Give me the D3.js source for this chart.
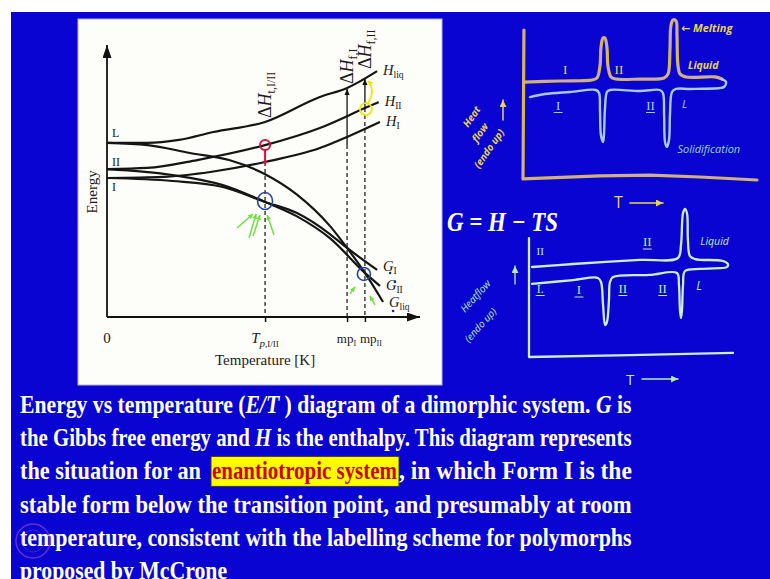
<!DOCTYPE html>
<html>
<head>
<meta charset="utf-8">
<script src="https://d3js.org/d3.v7.min.js"></script>
<style>
  body { margin: 0; background: #fff; }
  svg { display: block; }
</style>
</head>
<body>
<svg id="slide" width="770" height="579"></svg>
<script>
// ---- E/T diagram: [temperature, energy] (both 0..100) ----
const hLiq = [[0,64],[12.8,64],[23,65.1],[34,68],[50.5,71.7],[68,80.9],[76.7,84.2],[86.3,90.4]];
const hII  = [[0,54.4],[12.8,54.8],[28.8,57.7],[50.5,63.2],[68,69.5],[82.4,76.8],[86.8,79]];
const hI   = [[0,51.1],[18,51.5],[34,53.5],[50.5,57],[68,62.1],[76.7,66.2],[87.2,71.7]];
const gLiq = [[0,64],[13,63.2],[26.5,60.3],[39,57.7],[50.5,52.5],[60.7,45],[71.2,33.5],[76.7,25.4],[82.4,16.2],[88.2,5.5]];
const gII  = [[0,54.4],[21,52.2],[37,48.5],[50.5,42.3],[60.7,37],[71.2,29],[82.4,16.2],[87.2,11.4]];
const gI   = [[0,51.1],[21,50],[37,47.8],[50.5,42.3],[60.7,38.2],[71.2,30.5],[76.7,25.4],[86.3,17.3]];

const tP = 50.5, mpI = 76.7, mpII = 82.4;
const curveNames = ['H_liq','H_II','H_I','G_I','G_II','G_liq'];

// ---- hand sketches on the right, points in a 0..100 box ----
const dscAxisTop  = [[0.4,100],[0,0.7],[32.9,2.7],[54.3,3.3],[75.6,2],[100,0]];
const dscHeatTop  = [[0.4,65.3],[15.8,66],[29.5,66.7],[31.6,68],[32.9,76],[33.3,88],[34.2,94.7],[35,94.7],[35.9,88],[36.3,76],[37.6,68.7],[39.7,67.3],[50,67.3],[60.3,68],[62,70.7],[62.8,86.7],[63.2,102.7],[64.1,106.7],[65.4,106],[65.8,96.7],[66.2,76.7],[67.1,70.7],[69.7,68.7],[82.1,68.7],[85,67.3]];
const dscCoolTop  = [[85,67.3],[86.8,65.3],[85.9,62],[84.2,61.3],[71.4,60.7],[65.4,60.7],[63.7,58.7],[62.8,43.3],[62.4,26.7],[61.5,22],[60.7,25.3],[60.3,43.3],[59.8,58],[58.5,60],[50,59.3],[37.2,60],[35.9,58.7],[35,46.7],[34.6,30],[34.2,25.3],[33.3,30],[32.9,46.7],[32.5,58],[31.2,60],[20.1,58.7],[9.4,57.3],[3,55.3]];
const dscAxisBot  = [[0,79.3],[0,0],[49.5,1.3],[100,2.7]];
const dscUpperBot = [[1.5,60],[21.6,62],[54.4,64.7],[73,66],[74.5,74.7],[75.5,96],[76.5,98.7],[77.5,95.3],[77.9,78],[78.9,67.3],[81.4,65.3],[95.1,64],[97.5,62],[97.1,60],[93.6,59.3]];
const dscLowerBot = [[93.6,59.3],[83.8,58.7],[76.5,57.3],[75.5,48],[75,31.3],[74.5,26],[74,31.3],[73.5,48],[72.5,56],[59.3,54.7],[41.2,53.3],[39.7,50],[39.2,38],[38.2,23.3],[37.3,21.3],[36.3,34.7],[35.3,50],[33.8,52.7],[21.6,51.3],[1.5,48.7]];

// ---- caption ----
const captionLines = [
  [['Energy vs temperature (',0],['E/T',1],[' ) diagram of a dimorphic system. ',0],['G',1],[' is',0]],
  [['the Gibbs free energy and ',0],['H',1],[' is the enthalpy. This diagram represents',0]],
  null,
  [['stable form below the transition point, and presumably at room',0]],
  [['temperature, consistent with the labelling scheme for polymorphs',0]],
  [['proposed by McCrone',0]]
];
const line3Parts = ['the situation for an', 'enantiotropic system', ', in which Form I is the'];

const svg = d3.select('#slide');
const serif = '"Liberation Serif", "Times New Roman", serif';
const hand = '"Open Sans", "DejaVu Sans", sans-serif';

svg.append('rect').attr('width', 770).attr('height', 579).attr('fill', '#ffffff');
svg.append('rect').attr('x', 11).attr('y', 12).attr('width', 759).attr('height', 567).attr('fill', '#0a04d2');
svg.append('rect').attr('x', 78).attr('y', 19).attr('width', 364).attr('height', 366)
  .attr('fill', '#fdfdf9').attr('stroke', '#b6aef0').attr('stroke-width', 1);

const defs = svg.append('defs');
function marker(id, len, half, color) {
  defs.append('marker').attr('id', id).attr('markerUnits', 'userSpaceOnUse')
    .attr('viewBox', `0 ${-half} ${len} ${2*half}`).attr('refX', len).attr('refY', 0)
    .attr('markerWidth', len).attr('markerHeight', 2*half).attr('orient', 'auto')
    .append('path').attr('d', `M0,${-half}L${len},0L0,${half}Z`).attr('fill', color);
}
marker('axisHead', 13, 4.5, '#111');
marker('smallHead', 6, 2.6, '#111');
marker('greenHead', 5, 2.5, '#6fe040');
marker('yellowHead', 5, 3, '#f2e600');
marker('handHead', 7, 3.5, '#e8d44c');
marker('paleHead', 7, 3.5, '#b8eca8');

// ================= E/T diagram =================
const x = d3.scaleLinear().domain([0, 100]).range([107, 420]);
const y = d3.scaleLinear().domain([0, 100]).range([317, 45]);
const line = d3.line().x(d => x(d[0])).y(d => y(d[1])).curve(d3.curveMonotoneX);
const at = (pts, t) => d3.scaleLinear().domain(pts.map(p => p[0])).range(pts.map(p => p[1]))(t);

const chart = svg.append('g').attr('id', 'chart');

// ticks under the axis
chart.append('g').attr('transform', `translate(0,${y(0)})`)
  .call(d3.axisBottom(x).tickValues([tP, mpI, mpII]).tickFormat('').tickSizeInner(5).tickSizeOuter(0))
  .call(g => g.select('.domain').remove())
  .selectAll('line').attr('stroke', '#111').attr('stroke-width', 1.5);

// dashed drop lines
const dashes = [[tP, at(hI, tP)], [mpI, at(hI, mpI) - 3], [mpII, at(hII, mpII)]];
chart.selectAll('line.drop').data(dashes).join('line').classed('drop', true)
  .attr('x1', d => x(d[0])).attr('x2', d => x(d[0]))
  .attr('y1', d => y(d[1])).attr('y2', y(0))
  .attr('stroke', '#222').attr('stroke-width', 1.3).attr('stroke-dasharray', '4,3');

// enthalpy of fusion arrows
const fusion = [[mpI, at(hI, mpI) - 3, at(hLiq, mpI)], [mpII, at(hII, mpII), at(hLiq, mpII)]];
chart.selectAll('line.fus').data(fusion).join('line').classed('fus', true)
  .attr('x1', d => x(d[0])).attr('x2', d => x(d[0]))
  .attr('y1', d => y(d[1])).attr('y2', d => y(d[2]) + 1)
  .attr('stroke', '#222').attr('stroke-width', 1.4).attr('marker-end', 'url(#smallHead)');

// curves
chart.selectAll('path.curve').data([hLiq, hII, hI, gI, gII, gLiq]).join('path').classed('curve', true)
  .attr('d', line).attr('fill', 'none').attr('stroke', '#151515').attr('stroke-width', 2.2);

// axes with arrow heads
chart.append('line').attr('x1', x(0)).attr('x2', x(0)).attr('y1', y(0)).attr('y2', y(100))
  .attr('stroke', '#111').attr('stroke-width', 1.8).attr('marker-end', 'url(#axisHead)');
chart.append('line').attr('x1', x(0)).attr('x2', x(100)).attr('y1', y(0)).attr('y2', y(0))
  .attr('stroke', '#111').attr('stroke-width', 1.8).attr('marker-end', 'url(#axisHead)');

// curve labels at the right ends
function label(g, px, py, main, sub) {
  const t = g.append('text').attr('x', px).attr('y', py)
    .attr('font-family', serif).attr('font-size', 14.5).attr('fill', '#1a1a1a');
  t.append('tspan').text(main).attr('font-style', 'italic');
  t.append('tspan').text(sub).attr('font-size', 9.5).attr('dy', 3);
  return t;
}
const ends = [hLiq, hII, hI, gI, gII, gLiq].map(c => c[c.length - 1]);
const labelShift = [4, 4, 4, 1, 4, 5];
ends.forEach((e, i) => {
  const nm = curveNames[i].split('_');
  label(chart, x(e[0]) + 6, y(e[1]) + labelShift[i], nm[0], nm[1]);
});
// little blue pen marks next to the G labels
chart.selectAll('circle.pen').data([[gI, 13, 3], [gII, 15, -4], [gLiq, 10, 9]]).join('circle').classed('pen', true)
  .attr('cx', d => x(d[0][d[0].length - 1][0]) + d[1])
  .attr('cy', d => y(d[0][d[0].length - 1][1]) + d[2])
  .attr('r', 1.3).attr('fill', '#1a2a9a');

// rotated delta-H labels
function rotLabel(px, py, sub) {
  const g = chart.append('g').attr('transform', `translate(${px},${py}) rotate(-90)`);
  const t = g.append('text').attr('font-family', serif).attr('font-size', 18).attr('fill', '#1a1a1a');
  t.append('tspan').text('Δ').attr('font-style', 'normal');
  t.append('tspan').text('H').attr('font-style', 'italic');
  t.append('tspan').text(sub).attr('font-size', 12).attr('dy', 4);
}
rotLabel(x(tP) + 6, 118, 't,I/II');
rotLabel(x(mpI) + 6, 84, 'f,I');
rotLabel(x(mpII) + 6, 69, 'f,II');

// axis labels
const tl = chart.append('g').attr('font-family', serif).attr('font-size', 15).attr('fill', '#1a1a1a');
tl.append('text').attr('x', x(0)).attr('y', y(0) + 26).attr('text-anchor', 'middle').text('0');
const tpL = tl.append('text').attr('x', x(tP)).attr('y', y(0) + 26).attr('text-anchor', 'middle');
tpL.append('tspan').text('T').attr('font-style', 'italic');
tpL.append('tspan').text('p').attr('font-style', 'italic').attr('font-size', 11).attr('dy', 4);
tpL.append('tspan').text(',I/II').attr('font-size', 9);
[[mpI, 'I', 'end', 9], [mpII, 'II', 'start', -5]].forEach(m => {
  const t = tl.append('text').attr('x', x(m[0]) + m[3]).attr('y', y(0) + 26)
    .attr('text-anchor', m[2]).attr('font-size', 13);
  t.append('tspan').text('mp');
  t.append('tspan').text(m[1]).attr('font-size', 8).attr('dy', 3);
});
tl.append('text').attr('x', x(tP)).attr('y', y(0) + 48).attr('text-anchor', 'middle').text('Temperature [K]');
tl.append('text').attr('transform', `translate(${x(0) - 10},${y(46)}) rotate(-90)`)
  .attr('text-anchor', 'middle').text('Energy');

// handwritten level marks next to the energy axis
const marks = [['L', hLiq], ['II', hII], ['I', hI]];
chart.selectAll('text.lvl').data(marks).join('text').classed('lvl', true)
  .attr('x', x(0) + 5).attr('y', (d, i) => y(d[1][0][1]) - [6, 3, -13][i])
  .attr('font-family', serif).attr('font-size', 12).attr('fill', '#222').text(d => d[0]);

// coloured pen annotations
const crossTp = [tP, at(gI, tP)];
const crossMp = [mpII, at(gLiq, mpII)];
chart.append('circle').attr('cx', x(tP)).attr('cy', y(at(hII, tP)))
  .attr('r', 5).attr('fill', 'none').attr('stroke', '#d8103a').attr('stroke-width', 2);
chart.append('line').attr('x1', x(tP)).attr('x2', x(tP)).attr('y1', y(at(hII, tP)) + 5).attr('y2', y(at(hI, tP)))
  .attr('stroke', '#d8103a').attr('stroke-width', 2);
chart.append('circle').attr('cx', x(tP)).attr('cy', y(at(hI, tP)))
  .attr('r', 1.8).attr('fill', '#d8103a');
chart.append('ellipse').attr('cx', x(crossTp[0])).attr('cy', y(crossTp[1]) - 1).attr('rx', 7.5).attr('ry', 8.5)
  .attr('fill', 'none').attr('stroke', '#24469e').attr('stroke-width', 1.6);
chart.append('circle').attr('cx', x(crossMp[0]) - 1).attr('cy', y(crossMp[1]) + 1)
  .attr('r', 6.5).attr('fill', 'none').attr('stroke', '#24469e').attr('stroke-width', 1.6);
chart.append('circle').attr('cx', x(mpII) + 1).attr('cy', y(at(hII, mpII)) + 1)
  .attr('r', 6).attr('fill', 'none').attr('stroke', '#f2e600').attr('stroke-width', 1.8);
chart.append('path')
  .attr('d', `M${x(mpII) + 2},${y(at(hII, mpII)) - 4} C${x(mpII) + 9},${y(at(hII, mpII)) - 12} ${x(mpII) + 8},${y(at(hLiq, mpII)) + 8} ${x(mpII) + 3},${y(at(hLiq, mpII)) + 3}`)
  .attr('fill', 'none').attr('stroke', '#f2e600').attr('stroke-width', 1.8).attr('marker-end', 'url(#yellowHead)');

// green arrows pointing at the crossings (offsets in px from the crossing)
const greenArrows = [
  [crossTp, [-28, 26], [-12, 12]], [crossTp, [-16, 36], [-9, 12]], [crossTp, [-12, 34], [-5, 13]], [crossTp, [9, 33], [2, 13]],
  [crossMp, [-15, 21], [-10, 14]], [crossMp, [10, 32], [5, 23]]
];
chart.selectAll('line.green').data(greenArrows).join('line').classed('green', true)
  .attr('x1', d => x(d[0][0]) + d[1][0]).attr('y1', d => y(d[0][1]) + d[1][1])
  .attr('x2', d => x(d[0][0]) + d[2][0]).attr('y2', d => y(d[0][1]) + d[2][1])
  .attr('stroke', '#6fe040').attr('stroke-width', 1.5).attr('marker-end', 'url(#greenHead)');

// ================= hand sketches =================
const sketchLine = (sx, sy) => d3.line().x(d => sx(d[0])).y(d => sy(d[1])).curve(d3.curveCatmullRom.alpha(0.5));
const axisLine = (sx, sy) => d3.line().x(d => sx(d[0])).y(d => sy(d[1]));
const sxT = d3.scaleLinear().domain([0, 100]).range([523, 757]);
const syT = d3.scaleLinear().domain([0, 100]).range([180, 30]);
const sketchTop = svg.append('g').attr('id', 'sketchTop').attr('fill', 'none')
  .attr('stroke-linecap', 'round').attr('stroke-linejoin', 'round');
[[dscAxisTop, axisLine], [dscHeatTop, sketchLine]].forEach(([pts, gen]) => {
  sketchTop.append('path').attr('d', gen(sxT, syT)(pts)).attr('stroke', '#d6b54a').attr('stroke-width', 3.2);
  sketchTop.append('path').attr('d', gen(sxT, syT)(pts)).attr('stroke', '#c6a6de').attr('stroke-width', 1.1);
});
sketchTop.append('path').attr('d', sketchLine(sxT, syT)(dscCoolTop)).attr('stroke', '#a9c9f6').attr('stroke-width', 2.4);

const hy = '#e8d44c', lb = '#a8ccf4', pg = '#b8eca8';
function handText(g, px, py, str, color, size, rot) {
  return g.append('text').attr('transform', `translate(${px},${py})${rot ? ` rotate(${rot})` : ''}`)
    .attr('font-family', hand).attr('font-style', 'italic').attr('font-size', size)
    .attr('fill', color).attr('stroke', 'none').text(str);
}
function numeral(g, px, py, str, color, size, under) {
  g.append('text').attr('x', px).attr('y', py).attr('text-anchor', 'middle')
    .attr('font-family', serif).attr('font-size', size).attr('fill', color).attr('stroke', 'none').text(str);
  if (under) g.append('line').attr('x1', px - 4).attr('x2', px + 4).attr('y1', py + 3).attr('y2', py + 3)
    .attr('stroke', color).attr('stroke-width', 1.2);
}
handText(sketchTop, sxT(67.5), syT(99), '← Melting', hy, 11, 0).attr('font-weight', 'bold');
numeral(sketchTop, sxT(18), syT(71), 'I', hy, 13, false);
numeral(sketchTop, sxT(41), syT(71), 'II', hy, 13, false);
handText(sketchTop, sxT(70.5), syT(74), 'Liquid', hy, 10.5, 0).attr('font-weight', 'bold');
numeral(sketchTop, sxT(15), syT(47), 'I', lb, 13, true);
numeral(sketchTop, sxT(54.5), syT(47), 'II', lb, 13, true);
handText(sketchTop, sxT(68), syT(48), 'L', lb, 11, 0);
handText(sketchTop, sxT(66), syT(18), 'Solidification', '#98d6cc', 11, 0);
handText(sketchTop, 468, 128, 'Heat', hy, 10, -55).attr('font-weight', 'bold');
handText(sketchTop, 477, 143, 'flow', hy, 10, -55).attr('font-weight', 'bold');
handText(sketchTop, 479, 169, '(endo up)', hy, 10, -55).attr('font-weight', 'bold');
sketchTop.append('line').attr('x1', 503).attr('x2', 503).attr('y1', 120).attr('y2', 100)
  .attr('stroke', hy).attr('stroke-width', 1.5).attr('marker-end', 'url(#handHead)');
handText(sketchTop, 614, 208, 'T', hy, 16, 0).attr('font-style', 'normal');
sketchTop.append('line').attr('x1', 630).attr('x2', 663).attr('y1', 203).attr('y2', 203)
  .attr('stroke', hy).attr('stroke-width', 1.6).attr('marker-end', 'url(#handHead)');

// G = H - TS
svg.append('text').attr('x', 447).attr('y', 231).attr('font-family', serif).attr('font-weight', 'bold')
  .attr('font-style', 'italic').attr('font-size', 27).attr('fill', '#ffffff')
  .attr('textLength', 111).attr('lengthAdjust', 'spacingAndGlyphs').text('G = H − TS');

const sxB = d3.scaleLinear().domain([0, 100]).range([529, 733]);
const syB = d3.scaleLinear().domain([0, 100]).range([357, 207]);
const sketchBot = svg.append('g').attr('id', 'sketchBot').attr('fill', 'none')
  .attr('stroke-linecap', 'round').attr('stroke-linejoin', 'round');
[[dscAxisBot, axisLine], [dscUpperBot, sketchLine], [dscLowerBot, sketchLine]].forEach(([pts, gen]) => {
  sketchBot.append('path').attr('d', gen(sxB, syB)(pts)).attr('stroke', '#cdeed6').attr('stroke-width', 2.3);
});
numeral(sketchBot, sxB(5.5), syB(68), 'II', pg, 11, false);
numeral(sketchBot, sxB(58), syB(74), 'II', pg, 13, true);
handText(sketchBot, sxB(84), syB(75), 'Liquid', pg, 10.5, 0);
numeral(sketchBot, sxB(5.5), syB(43), 'I.', pg, 12, true);
numeral(sketchBot, sxB(24.5), syB(42), 'I', pg, 13, true);
numeral(sketchBot, sxB(46), syB(43), 'II', pg, 13, true);
numeral(sketchBot, sxB(65.5), syB(43), 'II', pg, 13, true);
handText(sketchBot, sxB(82), syB(45), 'L', pg, 12, 0);
handText(sketchBot, 465, 313, 'Heatflow', pg, 10, -48);
handText(sketchBot, 469, 343, '(endo up)', pg, 10, -48);
sketchBot.append('line').attr('x1', 515).attr('x2', 515).attr('y1', 284).attr('y2', 266)
  .attr('stroke', pg).attr('stroke-width', 1.3).attr('marker-end', 'url(#paleHead)');
handText(sketchBot, 626, 385, 'T', pg, 15, 0).attr('font-style', 'normal');
sketchBot.append('line').attr('x1', 642).attr('x2', 678).attr('y1', 379).attr('y2', 379)
  .attr('stroke', pg).attr('stroke-width', 1.5).attr('marker-end', 'url(#paleHead)');

// ================= caption =================
const cap = svg.append('g').attr('id', 'caption').attr('font-family', serif).attr('font-weight', 'bold')
  .attr('font-size', 25.5).attr('fill', '#ffffff');
const left = 20, right = 632, base0 = 413, lead = 33.2;
// squeeze a text horizontally so it spans [x0, x1]
function fit(g, x0, x1, yy, k) {
  const w = g.select('text').node().getComputedTextLength();
  const s = k || (x1 - x0) / w;
  g.attr('transform', `translate(${x0},${yy}) scale(${s},1)`);
  return s;
}
const ks = [];
captionLines.forEach((parts, i) => {
  if (!parts) return;
  const g = cap.append('g');
  const t = g.append('text');
  parts.forEach(p => t.append('tspan').text(p[0]).attr('font-style', p[1] ? 'italic' : 'normal'));
  if (i < 5) ks.push(fit(g, left, right, base0 + i * lead));
  else fit(g, left, 0, base0 + i * lead, d3.mean(ks));
});
// line 3 with the highlighted phrase
const l3y = base0 + 2 * lead;
const spans = [[left, 201], [212, 397], [399, right]];
cap.append('rect').attr('x', 211).attr('y', l3y - 23).attr('width', 188).attr('height', 30)
  .attr('fill', '#ffff00').attr('stroke', '#3a3a3a').attr('stroke-width', 1);
line3Parts.forEach((s, i) => {
  const g = cap.append('g');
  g.append('text').attr('fill', i === 1 ? '#d00000' : '#ffffff').text(s);
  fit(g, spans[i][0], spans[i][1], l3y);
});

// faint logo bottom-left
svg.append('circle').attr('cx', 33).attr('cy', 541).attr('r', 17)
  .attr('fill', 'none').attr('stroke', '#b050c8').attr('stroke-opacity', 0.55).attr('stroke-width', 1.5);
svg.append('circle').attr('cx', 33).attr('cy', 541).attr('r', 11)
  .attr('fill', 'none').attr('stroke', '#b050c8').attr('stroke-opacity', 0.35).attr('stroke-width', 1);
</script>
</body>
</html>
